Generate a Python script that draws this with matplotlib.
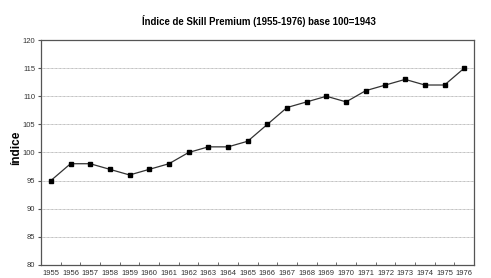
import matplotlib
matplotlib.use("Agg")
import matplotlib.pyplot as plt
import numpy as np

plt.rcParams['font.family'] = ['Liberation Sans', 'DejaVu Sans']

years = [str(y) for y in range(1955, 1977)]
values = [95, 98, 98, 97, 96, 97, 98, 100, 101, 101, 102, 105,
          108, 109, 110, 109, 111, 112, 113, 112, 112, 115]
yticks = [80, 85, 90, 95, 100, 105, 110, 115, 120]

fig = plt.figure(figsize=(4.91, 2.78), dpi=100, facecolor='white')
ax = fig.add_axes([0.0835, 0.047, 0.882, 0.809])

x = np.arange(len(years))
ax.plot(x, values, color='#333333', lw=0.9, marker='s', markersize=2.8,
        markerfacecolor='black', markeredgecolor='black', zorder=3)

ax.set_xlim(-0.5, len(years) - 0.5)
ax.set_ylim(80, 120)
ax.set_yticks(yticks)
ax.set_yticklabels([str(t) for t in yticks], fontsize=5.5, color='#333333')
ax.set_xticks(x)
ax.set_xticklabels(years, fontsize=5.5, color='#333333')
ax.set_xticks(np.arange(-0.5, len(years)), minor=True)
ax.tick_params(axis='x', which='major', length=0, pad=4)
ax.tick_params(axis='x', which='minor', length=2, direction='in', color='#555555')
ax.tick_params(axis='y', length=2, color='#555555', pad=2)

ax.grid(axis='y', color='#aaaaaa', lw=0.6, linestyle=(0, (1, 0.6)))
ax.set_axisbelow(True)
for s in ax.spines.values():
    s.set_color('#555555')
    s.set_linewidth(0.9)

ax.set_ylabel('índice', fontsize=8.5, fontweight='bold', labelpad=1)
ax.yaxis.set_label_coords(-0.044, 0.52)
fig.text(0.527, 0.925, 'Índice de Skill Premium (1955-1976) base 100=1943',
         ha='center', va='center', fontsize=6.9, fontweight='bold')

fig.savefig('out.png', dpi=100)
